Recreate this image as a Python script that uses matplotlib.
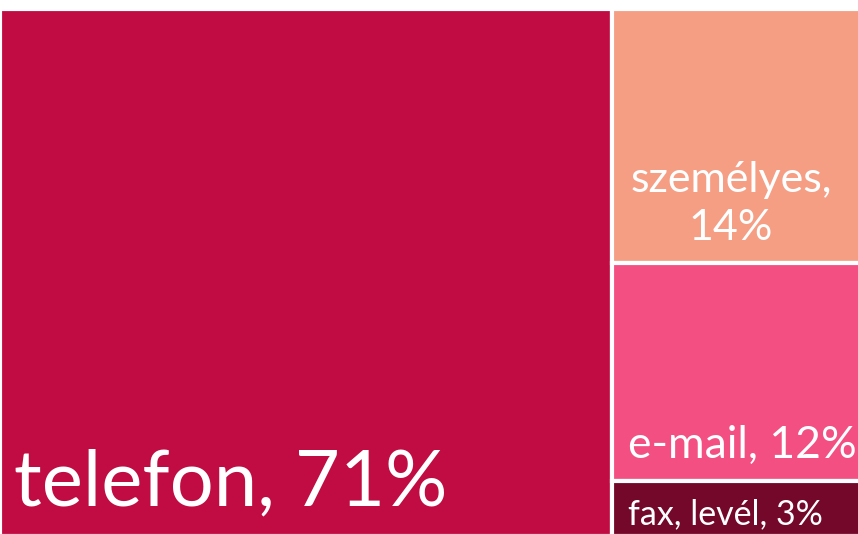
import matplotlib.pyplot as plt
from matplotlib.patches import Rectangle

labels = ["telefon", "személyes", "e-mail", "fax, levél"]
values = [71, 14, 12, 3]
colors = ["#C00C42", "#F59E84", "#F44F82", "#74082A"]

plt.rcParams['font.family'] = ['Lato', 'DejaVu Sans']

fig = plt.figure(figsize=(8.58, 5.34), dpi=100)
ax = fig.add_axes([0, 0, 1, 1])
ax.set_xlim(0, 858)
ax.set_ylim(534, 0)
ax.axis("off")

# treemap area (pixels); white edges make the gaps
X0, Y0, W, H = 0, 9, 862, 527
total = sum(values)

rects = []
w0 = W * values[0] / total
rects.append((X0, Y0, w0, H))
rest = sum(values[1:])
y = Y0
for v in values[1:]:
    h = H * v / rest
    rects.append((X0 + w0, y, W - w0, h))
    y += h

for (x, y, w, h), c in zip(rects, colors):
    ax.add_patch(Rectangle((x, y), w, h, facecolor=c, edgecolor="white", linewidth=3))

txt = [f"{l}, {v}%" for l, v in zip(labels, values)]
ax.text(14, 505, txt[0], color="white", fontsize=56, ha="left", va="baseline")
ax.text(731, 240, "személyes,\n14%", color="white", fontsize=31, ha="center",
        va="baseline", linespacing=1.31)
ax.text(628, 458, txt[2], color="white", fontsize=32, ha="left", va="baseline")
ax.text(628, 524, txt[3], color="white", fontsize=24.5, ha="left", va="baseline")

fig.savefig("out.png", dpi=100)
